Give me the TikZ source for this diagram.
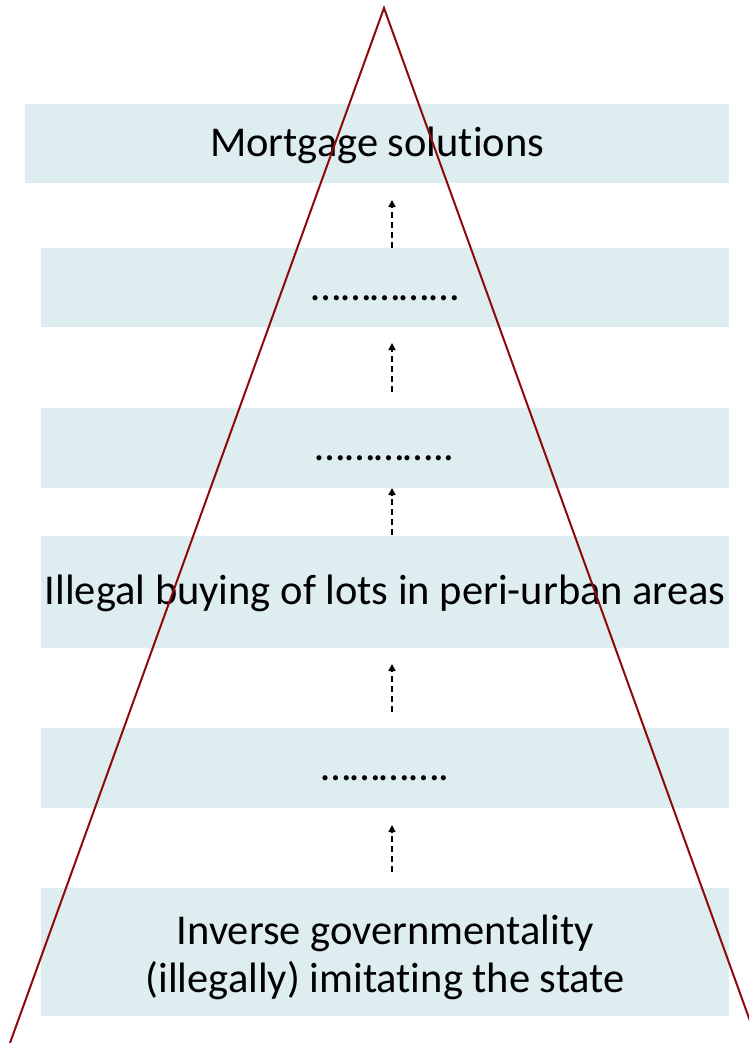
\documentclass[tikz,border=0pt]{standalone}
\usepackage{fontspec}
\setmainfont{Carlito}[Ligatures={NoCommon}]
\usetikzlibrary{arrows.meta}
\definecolor{bandc}{HTML}{DDEDF0}
\definecolor{trired}{HTML}{8E0A0A}
\tikzset{
  band/.style={fill=bandc, draw=none, inner sep=0pt, anchor=north west, align=center,
    font=\fontsize{42.5}{48}\selectfont, text height=34pt, text depth=8.5pt},
  txt/.style={inner sep=0pt, align=center, font=\fontsize{42.5}{48}\selectfont},
  arr/.style={dashed, dash pattern=on 6pt off 4pt, line width=1.5pt,
    -{Triangle[width=7pt,length=7pt]}},
  side/.style={trired, line width=2pt}
}
\begin{document}
\begin{tikzpicture}[x=1pt,y=-1pt]
\useasboundingbox (0,0) rectangle (749,1043);
\node[band, minimum width=704pt, minimum height=79pt] (b1) at (25,104) {Mortgage solutions};
\node[band, minimum width=688pt, minimum height=79pt] (b2) at (41,248) {……………};
\node[band, minimum width=688pt, minimum height=80pt] (b3) at (41,408) {…………..};
\node[band, minimum width=688pt, minimum height=112pt] (b4) at (41,536) {Illegal buying of lots in peri-urban areas};
\node[band, minimum width=688pt, minimum height=80pt] (b5) at (41,728) {………….};
\node[band, minimum width=688pt, minimum height=128pt] (b6) at (41,888) {};
\node[txt, yshift=-5pt] (t6) at (b6.center) {Inverse governmentality\\(illegally) imitating the state};
% arrows
\coordinate (a1s) at (392,872); \coordinate (a1e) at (392,825);
\coordinate (a2s) at (392,712); \coordinate (a2e) at (392,664);
\coordinate (a3s) at (392,535); \coordinate (a3e) at (392,488);
\coordinate (a4s) at (392,392); \coordinate (a4e) at (392,343);
\coordinate (a5s) at (392,248); \coordinate (a5e) at (392,200);
\draw[arr] (a1s) -- (a1e);
\draw[arr] (a2s) -- (a2e);
\draw[arr] (a3s) -- (a3e);
\draw[arr] (a4s) -- (a4e);
\draw[arr] (a5s) -- (a5e);
% triangle sides
\coordinate (apex) at (384,8);
\coordinate (bl) at (10,1043);
\coordinate (br) at (758,1043);
\begin{scope}
\clip (0,0) rectangle (749,1043);
\draw[side] (bl) -- (apex) -- (br);
\end{scope}
\end{tikzpicture}
\end{document}
